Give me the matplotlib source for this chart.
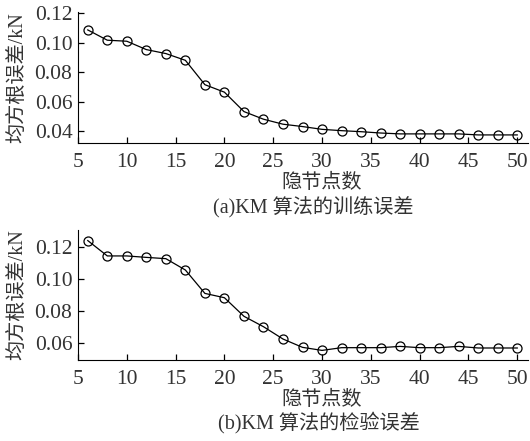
import numpy as np
import matplotlib
matplotlib.use('Agg')
import matplotlib.pyplot as plt

plt.rcParams['font.family'] = ['Liberation Serif', 'Noto Sans CJK SC']

# 数据
nodes = [6, 8, 10, 12, 14, 16, 18, 20, 22, 24, 26, 28, 30, 32, 34, 36, 38, 40, 42, 44, 46, 48, 50]
train_err = [0.1088, 0.1018, 0.1011, 0.0954, 0.0927, 0.0881, 0.0715, 0.0664, 0.0532, 0.0480,
             0.0446, 0.0430, 0.0411, 0.0402, 0.0395, 0.0386, 0.0380, 0.0380, 0.0380, 0.0380,
             0.0373, 0.0373, 0.0373]
test_err = [0.1238, 0.1142, 0.1142, 0.1133, 0.1125, 0.1054, 0.0908, 0.0881, 0.0765, 0.0700,
            0.0623, 0.0571, 0.0552, 0.0569, 0.0569, 0.0569, 0.0577, 0.0569, 0.0569, 0.0577,
            0.0567, 0.0567, 0.0567]
xticks = [5, 10, 15, 20, 25, 30, 35, 40, 45, 50]
yticks_a = [0.04, 0.06, 0.08, 0.10, 0.12]
yticks_b = [0.06, 0.08, 0.10, 0.12]

W, H = 530, 441
fig = plt.figure(figsize=(W / 100, H / 100), dpi=100)
txt = '#333333'

def panel(rect, y, ylim, yticks):
    ax = fig.add_axes(rect)
    ax.plot(nodes, y, '-', color='black', lw=0.9, marker='o', ms=6.5,
            mfc='none', mec='black', mew=0.9)
    ax.set_xlim(5, 51.1)
    ax.set_ylim(*ylim)
    ax.set_xticks(xticks)
    ax.set_yticks(yticks)
    ax.set_yticklabels(['%.2f' % v for v in yticks])
    ax.spines['top'].set_visible(False)
    ax.spines['right'].set_visible(False)
    ax.tick_params(direction='in', length=4, width=0.9, labelsize=15.5, colors='black',
                   labelcolor=txt)
    ax.tick_params(axis='x', pad=7)
    ax.tick_params(axis='y', pad=4)
    ax.set_ylabel('均方根误差/kN', fontsize=14.5, color=txt)
    ax.yaxis.set_label_coords(-0.113, 0.5)
    return ax

panel([78 / W, 1 - 143 / H, 450 / W, 131 / H], train_err, (0.0318, 0.121), yticks_a)
panel([78 / W, 1 - 360 / H, 450 / W, 130 / H], test_err, (0.0492, 0.1304), yticks_b)

fig.text(322 / W, 1 - 183 / H, '隐节点数', ha='center', va='center', fontsize=14.5, color=txt)
fig.text(313 / W, 1 - 208 / H, '(a)KM 算法的训练误差', ha='center', va='center', fontsize=14.5, color=txt)
fig.text(322 / W, 1 - 400 / H, '隐节点数', ha='center', va='center', fontsize=14.5, color=txt)
fig.text(319 / W, 1 - 423 / H, '(b)KM 算法的检验误差', ha='center', va='center', fontsize=14.5, color=txt)

fig.savefig('out.png', dpi=100)
